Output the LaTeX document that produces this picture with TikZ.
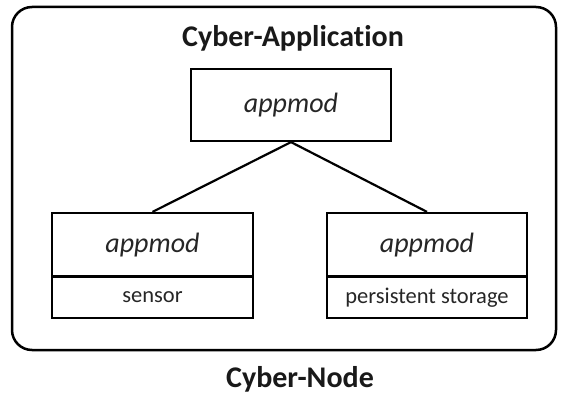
\documentclass[tikz,border=0pt]{standalone}
\usepackage{fontspec}
\setmainfont{Carlito}[Ligatures={NoCommon}]
\begin{document}
\begin{tikzpicture}[x=1pt,y=-1pt,
  box/.style={draw=black,line width=2.2pt,rectangle,inner sep=0pt},
  link/.style={draw=black,line width=2.2pt},
  titletext/.style={font=\fontsize{30}{36}\selectfont\bfseries,text=black!90},
  modtext/.style={font=\fontsize{28}{32}\selectfont\itshape,text=black!85},
  subtext/.style={font=\fontsize{22.5}{26}\selectfont,text=black!85}]
\useasboundingbox (0,0) rectangle (561,395);
\draw[line width=2.5pt,rounded corners=20pt] (12,7) rectangle (556,350);
\node[titletext] (apptitle) at (293,38) {Cyber-Application};
\node[titletext] (nodetitle) at (300,379) {Cyber-Node};
% top module
\node[box,minimum width=200pt,minimum height=72pt] (top) at (291,105) {};
\node[modtext] (toplabel) at (top.center) {appmod};
% left module
\node[box,minimum width=201pt,minimum height=105pt] (left) at (152.5,265.5) {};
\coordinate (ldiv1) at (52,276.5);
\coordinate (ldiv2) at (253,276.5);
\draw[link] (ldiv1) -- (ldiv2);
\node[modtext] (leftlabel) at (152.5,245) {appmod};
\node[subtext] (sensor) at (152.5,297.5) {sensor};
% right module
\node[box,minimum width=200pt,minimum height=105pt] (right) at (427,265.5) {};
\coordinate (rdiv1) at (327,276.5);
\coordinate (rdiv2) at (527,276.5);
\draw[link] (rdiv1) -- (rdiv2);
\node[modtext] (rightlabel) at (427,245) {appmod};
\node[subtext] (storage) at (427,297.5) {persistent storage};
% connectors
\draw[link] (top.south) -- (left.north);
\draw[link] (top.south) -- (right.north);
\end{tikzpicture}
\end{document}
